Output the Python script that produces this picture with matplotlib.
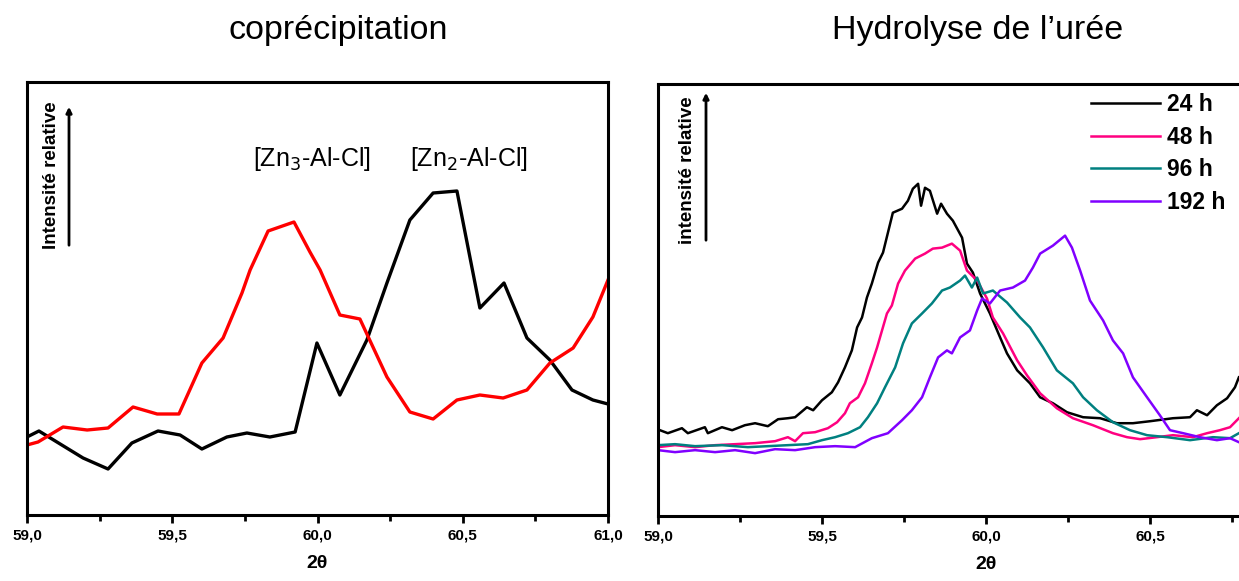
import numpy as np
import matplotlib
matplotlib.use("Agg")
import matplotlib.pyplot as plt

plt.rcParams['font.family'] = ['Liberation Sans', 'DejaVu Sans']

# --- coprecipitation (left) ---
cop_x_black = [59.0, 59.041, 59.193, 59.279, 59.361, 59.451, 59.527, 59.602, 59.688,
               59.757, 59.836, 59.923, 59.998, 60.077, 60.170, 60.239, 60.318, 60.398,
               60.480, 60.559, 60.642, 60.721, 60.800, 60.876, 60.948, 61.0]
cop_y_black = [78, 84, 57, 46, 72, 84, 80, 66, 78, 82, 78, 83, 172, 120, 175, 232,
               295, 322, 324, 207, 232, 177, 155, 125, 115, 111]

cop_x_red = [59.0, 59.038, 59.124, 59.207, 59.279, 59.365, 59.448, 59.523, 59.602,
             59.675, 59.740, 59.768, 59.830, 59.919, 59.974, 60.009, 60.077, 60.146,
             60.239, 60.318, 60.398, 60.480, 60.559, 60.639, 60.721, 60.800, 60.880,
             60.948, 61.0]
cop_y_red = [70, 73, 88, 85, 87, 108, 101, 101, 152, 177, 222, 245, 284, 293, 263,
             245, 200, 196, 138, 103, 96, 115, 120, 117, 125, 152, 167, 198, 235]

# --- hydrolyse de l'uree (right) ---
x_24 = [59.006, 59.030, 59.073, 59.091, 59.143, 59.152, 59.195, 59.226, 59.265, 59.296,
        59.335, 59.366, 59.396, 59.418, 59.454, 59.473, 59.500, 59.530, 59.549, 59.570,
        59.591, 59.607, 59.622, 59.637, 59.652, 59.671, 59.686, 59.701, 59.716, 59.744,
        59.762, 59.777, 59.793, 59.802, 59.814, 59.829, 59.851, 59.863, 59.881, 59.899,
        59.927, 59.942, 59.960, 59.982, 60.012, 60.043, 60.064, 60.095, 60.134, 60.165,
        60.204, 60.247, 60.296, 60.348, 60.399, 60.448, 60.500, 60.570, 60.622, 60.643,
        60.674, 60.704, 60.735, 60.759, 60.771]
y_24 = [86, 83, 88, 83, 89, 83, 89, 86, 91, 93, 90, 97, 98, 99, 109, 106, 116, 124, 134,
        149, 166, 189, 199, 219, 233, 254, 264, 284, 304, 308, 316, 328, 333, 311, 329,
        326, 303, 313, 303, 296, 279, 253, 244, 223, 203, 179, 163, 146, 133, 119, 113,
        104, 99, 98, 93, 93, 95, 98, 99, 106, 101, 111, 118, 129, 139]

x_48 = [59.000, 59.052, 59.113, 59.174, 59.235, 59.296, 59.357, 59.396, 59.418, 59.442,
        59.479, 59.518, 59.546, 59.570, 59.585, 59.610, 59.631, 59.652, 59.668, 59.683,
        59.698, 59.713, 59.732, 59.753, 59.784, 59.814, 59.838, 59.866, 59.896, 59.921,
        59.942, 59.973, 60.003, 60.021, 60.052, 60.095, 60.125, 60.165, 60.216, 60.265,
        60.326, 60.387, 60.430, 60.470, 60.521, 60.570, 60.631, 60.674, 60.713, 60.744,
        60.771]
y_48 = [69, 71, 69, 71, 72, 73, 75, 79, 75, 83, 84, 88, 94, 103, 113, 119, 133, 153, 169,
        186, 203, 211, 233, 246, 258, 263, 268, 269, 273, 266, 246, 236, 218, 199, 183,
        156, 141, 123, 108, 98, 91, 83, 79, 77, 79, 81, 79, 83, 86, 89, 98]

x_96 = [59.000, 59.052, 59.113, 59.195, 59.274, 59.335, 59.396, 59.457, 59.500, 59.540,
        59.579, 59.616, 59.640, 59.668, 59.692, 59.723, 59.747, 59.774, 59.805, 59.835,
        59.866, 59.890, 59.921, 59.936, 59.957, 59.973, 59.991, 60.021, 60.064, 60.104,
        60.134, 60.174, 60.216, 60.265, 60.296, 60.338, 60.387, 60.439, 60.491, 60.552,
        60.622, 60.692, 60.744, 60.771]
y_96 = [71, 72, 70, 71, 69, 70, 71, 72, 76, 79, 83, 89, 99, 113, 129, 149, 173, 193, 203,
        213, 226, 229, 236, 241, 229, 239, 223, 226, 214, 199, 189, 169, 146, 133, 119,
        106, 94, 86, 81, 79, 76, 79, 78, 83]

x_192 = [59.000, 59.052, 59.113, 59.174, 59.235, 59.296, 59.357, 59.418, 59.479, 59.540,
         59.601, 59.652, 59.701, 59.744, 59.774, 59.805, 59.829, 59.854, 59.881, 59.896,
         59.921, 59.951, 59.973, 59.988, 60.012, 60.043, 60.082, 60.119, 60.143, 60.165,
         60.204, 60.241, 60.262, 60.287, 60.317, 60.357, 60.387, 60.418, 60.448, 60.491,
         60.530, 60.561, 60.601, 60.652, 60.704, 60.744, 60.771]
y_192 = [66, 64, 66, 64, 66, 63, 67, 66, 69, 70, 69, 78, 83, 96, 106, 119, 139, 159, 166,
         163, 179, 186, 206, 218, 213, 226, 229, 236, 249, 263, 271, 281, 269, 246, 216,
         196, 176, 163, 139, 119, 101, 86, 83, 79, 76, 78, 74]

tick_vals = [59.0, 59.5, 60.0, 60.5, 61.0]
tick_labels = ["59,0", "59,5", "60,0", "60,5", "61,0"]

W, H = 1239, 581
fig = plt.figure(figsize=(W / 100, H / 100), dpi=100)

def px_box(l, t, r, b):
    return [l / W, 1 - b / H, (r - l) / W, (b - t) / H]

ax1 = fig.add_axes(px_box(27, 82, 608, 515))
ax2 = fig.add_axes(px_box(658, 84, 1314, 516))

for ax, nt in ((ax1, 5), (ax2, 4)):
    for s in ax.spines.values():
        s.set_linewidth(2.2)
    ax.set_xlim(59.0, 61.0)
    ax.set_ylim(0, 433)
    ax.set_yticks([])
    ax.set_xticks(tick_vals[:nt])
    ax.set_xticklabels(tick_labels[:nt], fontweight='bold', fontsize=11)
    ax.set_xticks([59.25, 59.75, 60.25, 60.75], minor=True)
    ax.tick_params(axis='x', which='major', direction='out', length=6, width=2, pad=4)
    ax.tick_params(axis='x', which='minor', direction='out', length=4, width=2)
    ax.set_xlabel("2θ", fontweight='bold', fontsize=14, labelpad=9)

ax1.plot(cop_x_black, cop_y_black, color='black', lw=2.4)
ax1.plot(cop_x_red, cop_y_red, color='#ff0000', lw=2.4)

ax1.text(0.49, 0.823, "[Zn$_3$-Al-Cl]", transform=ax1.transAxes, ha='center',
         va='center', fontsize=18)
ax1.text(0.76, 0.823, "[Zn$_2$-Al-Cl]", transform=ax1.transAxes, ha='center',
         va='center', fontsize=18)

ax2.plot(x_24, y_24, color='black', lw=1.8, label='24 h')
ax2.plot(x_48, y_48, color='#ff0080', lw=1.8, label='48 h')
ax2.plot(x_96, y_96, color='#008080', lw=1.8, label='96 h')
ax2.plot(x_192, y_192, color='#8000ff', lw=1.8, label='192 h')

leg = ax2.legend(loc='upper left', bbox_to_anchor=(1091 / W, 1 - 93 / H),
                 bbox_transform=fig.transFigure, frameon=False,
                 handlelength=3.0, handletextpad=0.3, labelspacing=0.42, borderpad=0,
                 borderaxespad=0, prop={'weight': 'bold', 'size': 16.5})

# y-axis labels with arrows
fig.text(52 / W, 1 - 249 / H, "Intensité relative", rotation=90, ha='center',
         va='bottom', fontsize=13.5, fontweight='bold')
fig.text(688 / W, 1 - 244 / H, "intensité relative", rotation=90, ha='center',
         va='bottom', fontsize=13.5, fontweight='bold')
for xa, y0, y1 in [(69, 248, 104), (706, 243, 90)]:
    fig.add_artist(matplotlib.patches.FancyArrowPatch(
        (xa / W, 1 - y0 / H), (xa / W, 1 - y1 / H), transform=fig.transFigure,
        arrowstyle='-|>', mutation_scale=8, lw=2, color='black'))

fig.text(338 / W, 1 - 30 / H, "coprécipitation", ha='center', va='center', fontsize=24.5)
fig.text(978 / W, 1 - 30 / H, "Hydrolyse de l’urée", ha='center', va='center', fontsize=24.5)

fig.savefig("out.png", dpi=100)
